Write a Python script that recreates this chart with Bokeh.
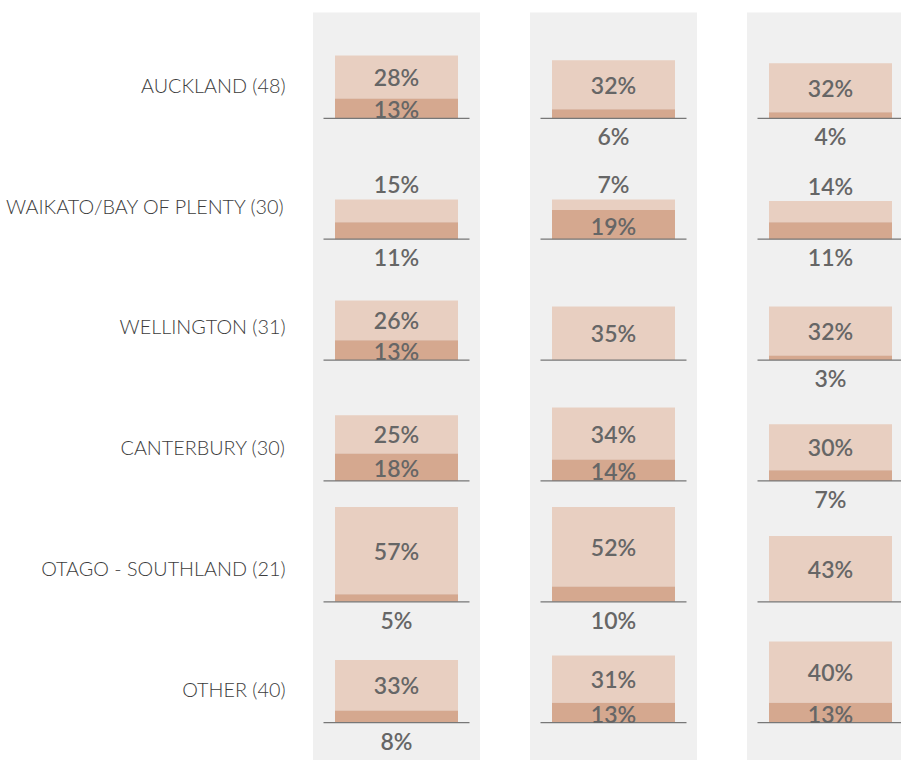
from bokeh.plotting import figure
from bokeh.models import Range1d, ColumnDataSource
from bokeh.core.properties import value
from bokeh.embed import file_html
from bokeh.resources import INLINE

# ---- data ----
regions = ["AUCKLAND (48)", "WAIKATO/BAY OF PLENTY (30)", "WELLINGTON (31)",
           "CANTERBURY (30)", "OTAGO - SOUTHLAND (21)", "OTHER (40)"]
# per panel (3 columns), per region: dark (bottom) and light (top) shares in %
dark_p1 = [13, 11, 13, 18, 5, 8]
light_p1 = [28, 15, 26, 25, 57, 33]
dark_p2 = [6, 19, 0, 14, 10, 13]
light_p2 = [32, 7, 35, 34, 52, 31]
dark_p3 = [4, 11, 3, 7, 0, 13]
light_p3 = [32, 14, 32, 30, 43, 40]

dark = [dark_p1, dark_p2, dark_p3]
light = [light_p1, light_p2, light_p3]

# ---- layout / style ----
W, H = 901, 760
Y_SPAN = 496.7           # percent units shown over the figure height
FIRST, STEP = 77, 79     # row baselines (percent units below top)
PANEL_C0, PANEL_STEP = 396, 217
PANEL_HALF = 83.5
BAR_HALF = 61.5
LINE_HALF = 73
LIGHT_COL = "#e8cfc1"
DARK_COL = "#d5a88f"
PANEL_BG = "#f0f0f0"
TXT = "#666666"
VFONT = "'Lato Semibold', Lato"
LFONT = "'Lato Light', Lato"

p = figure(width=W, height=H, output_backend="svg", toolbar_location=None,
           x_range=Range1d(0, W), y_range=Range1d(-Y_SPAN, 0),
           min_border=0, outline_line_color=None)
p.axis.visible = False
p.grid.visible = False
p.background_fill_color = "white"

n = len(regions)
base = [-(FIRST + i * STEP) for i in range(n)]
centers = [PANEL_C0 + j * PANEL_STEP for j in range(3)]

# panel backgrounds
p.quad(left=[c - PANEL_HALF for c in centers], right=[c + PANEL_HALF for c in centers],
       top=[-7.8] * 3, bottom=[-Y_SPAN] * 3, fill_color=PANEL_BG, line_color=None)

vstyle = dict(text_align="center", text_font=value(VFONT), text_font_size="23px",
              text_color=TXT)

for j in range(3):
    c = centers[j]
    d = dark[j]
    l = light[j]
    src = ColumnDataSource(dict(
        left=[c - BAR_HALF] * n, right=[c + BAR_HALF] * n,
        b=base, dtop=[b + dv for b, dv in zip(base, d)],
        ltop=[b + dv + lv for b, dv, lv in zip(base, d, l)],
    ))
    p.quad(left="left", right="right", bottom="dtop", top="ltop", source=src,
           fill_color=LIGHT_COL, line_color=None)
    p.quad(left="left", right="right", bottom="b", top="dtop", source=src,
           fill_color=DARK_COL, line_color=None)
    p.segment(x0=[c - LINE_HALF] * n, x1=[c + LINE_HALF] * n, y0=base, y1=base,
              line_color="#777777", line_width=1.3)

    # light labels
    lx_in, ly_in, lt_in, lx_up, ly_up, lt_up = [], [], [], [], [], []
    for b, dv, lv in zip(base, d, l):
        if lv >= 20:
            lx_in.append(c); ly_in.append(b + dv + lv / 2); lt_in.append(f"{lv}%")
        else:
            lx_up.append(c); ly_up.append(b + dv + lv); lt_up.append(f"{lv}%")
    p.text(x=lx_in, y=ly_in, text=lt_in, text_baseline="middle", **vstyle)
    p.text(x=lx_up, y=ly_up, text=lt_up, text_baseline="bottom", y_offset=-1, **vstyle)

    # dark labels
    dx_in, dy_in, dt_in, dx_dn, dy_dn, dt_dn = [], [], [], [], [], []
    for b, dv in zip(base, d):
        if dv <= 0:
            continue
        if dv >= 12:
            dx_in.append(c); dy_in.append(b + dv / 2); dt_in.append(f"{dv}%")
        else:
            dx_dn.append(c); dy_dn.append(b); dt_dn.append(f"{dv}%")
    p.text(x=dx_in, y=dy_in, text=dt_in, text_baseline="middle", y_offset=1, **vstyle)
    p.text(x=dx_dn, y=dy_dn, text=dt_dn, text_baseline="top", y_offset=4, **vstyle)

# row labels
p.text(x=[285] * n, y=[b + 22 for b in base], text=regions, text_align="right",
       text_baseline="middle", text_font=value(LFONT), text_font_size="19.8px",
       text_color="#3c3c3c")

open("out.html", "w").write(file_html(p, INLINE))
